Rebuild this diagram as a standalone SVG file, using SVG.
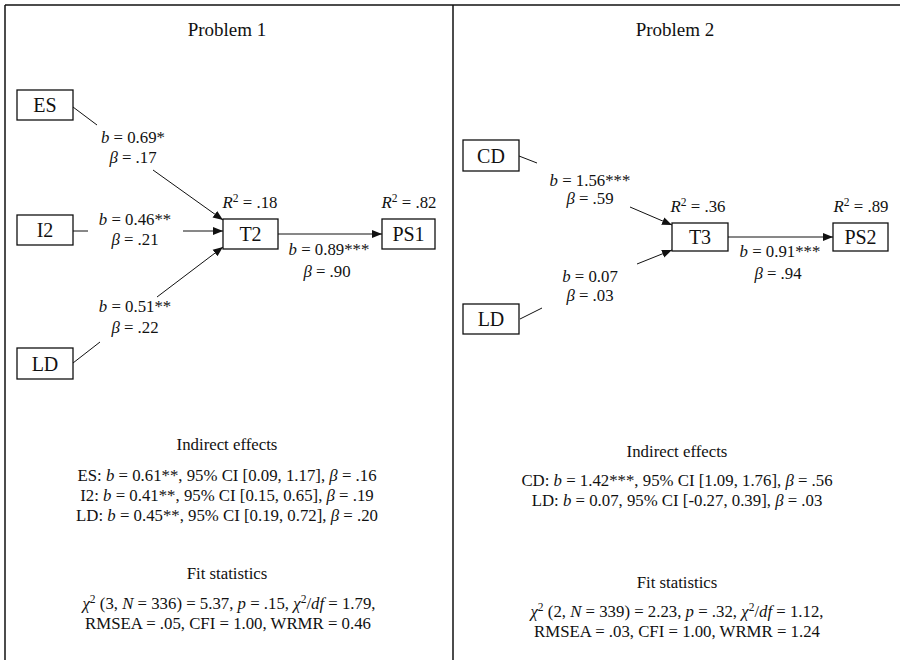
<svg xmlns="http://www.w3.org/2000/svg" width="900" height="660" viewBox="0 0 900 660">
<style>
text{font-family:"Liberation Serif","Times New Roman",serif;fill:#111;text-anchor:middle}
.t{font-size:16.8px}
.h{font-size:19px}
.n{font-size:20px}
.i{font-style:italic}
.box{fill:#fff;stroke:#111;stroke-width:1.3}
.ln{stroke:#111;stroke-width:1;fill:none}
.frame{stroke:#111;stroke-width:1.5;fill:none}
</style>
<defs>
<marker id="ah" viewBox="0 0 10 10" refX="10" refY="5" markerWidth="10" markerHeight="10" markerUnits="userSpaceOnUse" orient="auto">
<path d="M0,1 L10,5 L0,9 Z" fill="#111"/>
</marker>
</defs>
<rect width="900" height="660" fill="#fff"/>
<g id="frame">
<line class="frame" x1="5" y1="5" x2="900" y2="5"/>
<line class="frame" x1="5" y1="5" x2="5" y2="660"/>
<line class="frame" x1="453" y1="5" x2="453" y2="660"/>
</g>
<text class="h" x="227" y="36">Problem 1</text>
<text class="h" x="675" y="36">Problem 2</text>

<g id="connectors">
<line class="ln" x1="73" y1="107" x2="97" y2="125"/>
<line class="ln" x1="153" y1="170" x2="223" y2="220" marker-end="url(#ah)"/>
<line class="ln" x1="73" y1="231" x2="88" y2="231"/>
<line class="ln" x1="183" y1="231" x2="223" y2="231" marker-end="url(#ah)"/>
<line class="ln" x1="73" y1="363" x2="100" y2="342"/>
<line class="ln" x1="157" y1="297" x2="223" y2="247" marker-end="url(#ah)"/>
<line class="ln" x1="278" y1="234" x2="382" y2="234" marker-end="url(#ah)"/>
<line class="ln" x1="519" y1="156" x2="537" y2="163"/>
<line class="ln" x1="630" y1="207" x2="672" y2="225" marker-end="url(#ah)"/>
<line class="ln" x1="520" y1="319" x2="542" y2="308"/>
<line class="ln" x1="637" y1="264" x2="672" y2="250" marker-end="url(#ah)"/>
<line class="ln" x1="728" y1="237" x2="833" y2="237" marker-end="url(#ah)"/>
</g>

<g id="node-ES"><rect class="box" x="17" y="90" width="56" height="30"/><text class="n" x="45" y="112">ES</text></g>
<g id="node-I2"><rect class="box" x="17" y="215" width="56" height="30"/><text class="n" x="45" y="237">I2</text></g>
<g id="node-LD1"><rect class="box" x="17" y="348" width="56" height="31"/><text class="n" x="45" y="371">LD</text></g>
<g id="node-T2"><rect class="box" x="223" y="219" width="55" height="30"/><text class="n" x="250.5" y="241">T2</text></g>
<g id="node-PS1"><rect class="box" x="382" y="219" width="53" height="30"/><text class="n" x="408.5" y="241">PS1</text></g>

<g id="node-CD"><rect class="box" x="463" y="140" width="56" height="31"/><text class="n" x="491" y="163">CD</text></g>
<g id="node-LD2"><rect class="box" x="463" y="304" width="56" height="30"/><text class="n" x="491" y="326">LD</text></g>
<g id="node-T3"><rect class="box" x="672" y="223" width="56" height="28"/><text class="n" x="700" y="244">T3</text></g>
<g id="node-PS2"><rect class="box" x="833" y="223" width="55" height="28"/><text class="n" x="860.5" y="244">PS2</text></g>

<g id="labels">
<text class="t" x="133" y="143"><tspan class="i">b</tspan> = 0.69*</text>
<text class="t" x="133" y="163"><tspan class="i">β</tspan> = .17</text>
<text class="t" x="135" y="225"><tspan class="i">b</tspan> = 0.46**</text>
<text class="t" x="135" y="245"><tspan class="i">β</tspan> = .21</text>
<text class="t" x="135" y="312"><tspan class="i">b</tspan> = 0.51**</text>
<text class="t" x="135" y="333"><tspan class="i">β</tspan> = .22</text>
<text class="t" x="329" y="255"><tspan class="i">b</tspan> = 0.89***</text>
<text class="t" x="327" y="277"><tspan class="i">β</tspan> = .90</text>
<text class="t" x="250" y="208"><tspan class="i">R</tspan><tspan font-size="11.5" dy="-6">2</tspan><tspan dy="6"> = .18</tspan></text>
<text class="t" x="409" y="208"><tspan class="i">R</tspan><tspan font-size="11.5" dy="-6">2</tspan><tspan dy="6"> = .82</tspan></text>

<text class="t" x="590" y="186"><tspan class="i">b</tspan> = 1.56***</text>
<text class="t" x="590" y="204"><tspan class="i">β</tspan> = .59</text>
<text class="t" x="590" y="282"><tspan class="i">b</tspan> = 0.07</text>
<text class="t" x="590" y="301"><tspan class="i">β</tspan> = .03</text>
<text class="t" x="780" y="257"><tspan class="i">b</tspan> = 0.91***</text>
<text class="t" x="778" y="279"><tspan class="i">β</tspan> = .94</text>
<text class="t" x="698" y="212"><tspan class="i">R</tspan><tspan font-size="11.5" dy="-6">2</tspan><tspan dy="6"> = .36</tspan></text>
<text class="t" x="861" y="212"><tspan class="i">R</tspan><tspan font-size="11.5" dy="-6">2</tspan><tspan dy="6"> = .89</tspan></text>
</g>

<g id="summary1">
<text class="t" x="227" y="450">Indirect effects</text>
<text class="t" x="227" y="481">ES: <tspan class="i">b</tspan> = 0.61**, 95% CI [0.09, 1.17], <tspan class="i">β</tspan> = .16</text>
<text class="t" x="227" y="501">I2: <tspan class="i">b</tspan> = 0.41**, 95% CI [0.15, 0.65], <tspan class="i">β</tspan> = .19</text>
<text class="t" x="227" y="521">LD: <tspan class="i">b</tspan> = 0.45**, 95% CI [0.19, 0.72], <tspan class="i">β</tspan> = .20</text>
<text class="t" x="227" y="579">Fit statistics</text>
<text class="t" x="229" y="609"><tspan class="i">χ</tspan><tspan font-size="11.5" dy="-6">2</tspan><tspan dy="6"> (3, </tspan><tspan class="i">N</tspan> = 336) = 5.37, <tspan class="i">p</tspan> = .15, <tspan class="i">χ</tspan><tspan font-size="11.5" dy="-6">2</tspan><tspan dy="6">/</tspan><tspan class="i">df</tspan> = 1.79,</text>
<text class="t" x="228" y="629">RMSEA = .05, CFI = 1.00, WRMR = 0.46</text>
</g>

<g id="summary2">
<text class="t" x="677" y="457">Indirect effects</text>
<text class="t" x="677" y="486">CD: <tspan class="i">b</tspan> = 1.42***, 95% CI [1.09, 1.76], <tspan class="i">β</tspan> = .56</text>
<text class="t" x="677" y="506">LD: <tspan class="i">b</tspan> = 0.07, 95% CI [-0.27, 0.39], <tspan class="i">β</tspan> = .03</text>
<text class="t" x="677" y="588">Fit statistics</text>
<text class="t" x="677" y="617"><tspan class="i">χ</tspan><tspan font-size="11.5" dy="-6">2</tspan><tspan dy="6"> (2, </tspan><tspan class="i">N</tspan> = 339) = 2.23, <tspan class="i">p</tspan> = .32, <tspan class="i">χ</tspan><tspan font-size="11.5" dy="-6">2</tspan><tspan dy="6">/</tspan><tspan class="i">df</tspan> = 1.12,</text>
<text class="t" x="677" y="637">RMSEA = .03, CFI = 1.00, WRMR = 1.24</text>
</g>
</svg>
